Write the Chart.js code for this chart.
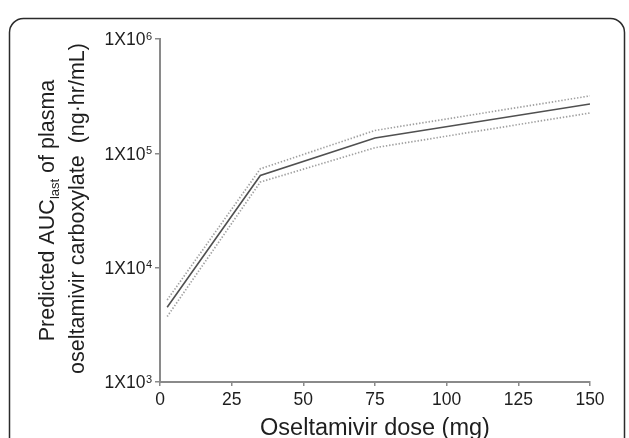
<!DOCTYPE html>
<html>
<head>
<meta charset="utf-8">
<script src="https://cdn.jsdelivr.net/npm/chart.js@4/dist/chart.umd.min.js"></script>
<style>
html,body{margin:0;padding:0;background:#fff;}
#c{display:block;}
</style>
</head>
<body>
<canvas id="c" width="629" height="438"></canvas>
<script>
// ---- data ----
const doses = [2.5, 35, 75, 150];
const predictedAUC = [4510, 64000, 136000, 270000];
const upperAUC = [5220, 73200, 158500, 318000];
const lowerAUC = [3735, 56100, 112000, 225500];
const xTickValues = [0, 25, 50, 75, 100, 125, 150];
const yTickValues = [1000, 10000, 100000, 1000000];
const yTickBase = ['1X10', '1X10', '1X10', '1X10'];
const yTickExp = ['3', '4', '5', '6'];
const xTitle = 'Oseltamivir dose (mg)';
const yTitleLine1 = ['Predicted AUC', 'last', ' of plasma'];
const yTitleLine2 = 'oseltamivir carboxylate  (ng\u00B7hr/mL)';

const FONT = '"Liberation Sans", Arial, sans-serif';
const TEXT = '#1e1e1e';

function pts(xs, ys) { return xs.map((x, i) => ({x: x, y: ys[i]})); }

const framePlugin = {
  id: 'frame',
  beforeDraw(chart) {
    const ctx = chart.ctx;
    ctx.save();
    ctx.fillStyle = '#fff';
    ctx.fillRect(0, 0, chart.width, chart.height);
    ctx.strokeStyle = '#2b2b2b';
    ctx.lineWidth = 1.5;
    ctx.beginPath();
    ctx.roundRect(9.5, 18.5, 615, 440, 14);
    ctx.stroke();
    ctx.restore();
  }
};

// y tick labels with real superscripts, placed with the library's y scale
const yTickPlugin = {
  id: 'yTickLabels',
  afterDraw(chart) {
    const ctx = chart.ctx;
    const ys = chart.scales.y;
    const right = ys.right - 5 - 3;
    const big = '17.5px ' + FONT;
    const small = '11px ' + FONT;
    ctx.save();
    ctx.fillStyle = TEXT;
    ctx.textBaseline = 'alphabetic';
    ctx.textAlign = 'left';
    yTickValues.forEach((v, i) => {
      const py = ys.getPixelForValue(v);
      ctx.font = small; const we = ctx.measureText(yTickExp[i]).width;
      ctx.font = big; const wb = ctx.measureText(yTickBase[i]).width;
      const x0 = right - we - wb - 0.5;
      const base = py + 6.2;
      ctx.fillText(yTickBase[i], x0, base);
      ctx.font = small;
      ctx.fillText(yTickExp[i], x0 + wb + 0.5, base - 5.5);
    });
    ctx.restore();
  }
};

const yTitlePlugin = {
  id: 'yTitle',
  afterDraw(chart) {
    const ctx = chart.ctx;
    const a = chart.chartArea;
    const cy = (a.top + a.bottom) / 2;
    const big = '21.5px ' + FONT;
    const small = '13px ' + FONT;
    ctx.save();
    ctx.fillStyle = TEXT;
    ctx.textBaseline = 'alphabetic';
    ctx.textAlign = 'left';
    ctx.font = big; const w0 = ctx.measureText(yTitleLine1[0]).width;
    const w2 = ctx.measureText(yTitleLine1[2]).width;
    ctx.font = small; const w1 = ctx.measureText(yTitleLine1[1]).width;
    const tot = w0 + w1 + w2;
    ctx.translate(54, cy);
    ctx.rotate(-Math.PI / 2);
    let x = -tot / 2;
    ctx.font = big; ctx.fillText(yTitleLine1[0], x, 0); x += w0;
    ctx.font = small; ctx.fillText(yTitleLine1[1], x, 5); x += w1;
    ctx.font = big; ctx.fillText(yTitleLine1[2], x, 0);
    ctx.restore();
    ctx.save();
    ctx.fillStyle = TEXT;
    ctx.font = big;
    ctx.textBaseline = 'alphabetic';
    ctx.textAlign = 'center';
    ctx.translate(84, cy - 2);
    ctx.rotate(-Math.PI / 2);
    ctx.fillText(yTitleLine2, 0, 0);
    ctx.restore();
  }
};

new Chart(document.getElementById('c'), {
  type: 'line',
  data: {
    datasets: [
      { label: 'Upper', data: pts(doses, upperAUC), borderColor: '#a0a0a0', borderWidth: 1.7, borderDash: [1.4, 1.8], pointRadius: 0, fill: false, tension: 0 },
      { label: 'Lower', data: pts(doses, lowerAUC), borderColor: '#a0a0a0', borderWidth: 1.7, borderDash: [1.4, 1.8], pointRadius: 0, fill: false, tension: 0 },
      { label: 'Predicted', data: pts(doses, predictedAUC), borderColor: '#505050', borderWidth: 1.6, pointRadius: 0, fill: false, tension: 0 }
    ]
  },
  options: {
    responsive: false,
    animation: false,
    devicePixelRatio: 1,
    layout: { padding: { left: 0, top: 39, right: 39, bottom: 0 } },
    plugins: { legend: { display: false }, tooltip: { enabled: false } },
    scales: {
      x: {
        type: 'linear',
        min: 0, max: 150,
        afterFit(scale) { scale.height = 56; },
        afterBuildTicks(scale) { scale.ticks = xTickValues.map(v => ({value: v})); },
        border: { display: true, color: '#8a8a8a', width: 2 },
        grid: { display: true, drawOnChartArea: false, drawTicks: true, tickLength: 4, color: '#8a8a8a', lineWidth: 1.5 },
        ticks: { padding: 4, color: TEXT, font: { family: FONT, size: 17.5 }, maxRotation: 0, autoSkip: false,
                 callback: (v) => String(v) },
        title: { display: true, text: xTitle, color: TEXT, font: { family: FONT, size: 23.5, lineHeight: 1 }, padding: { top: 0, bottom: -2 } }
      },
      y: {
        type: 'logarithmic',
        min: 1000, max: 1000000,
        afterFit(scale) { scale.width = 160; },
        afterBuildTicks(scale) { scale.ticks = yTickValues.map(v => ({value: v, major: true})); },
        border: { display: true, color: '#8a8a8a', width: 2 },
        grid: { display: true, drawOnChartArea: false, drawTicks: true, tickLength: 5, color: '#8a8a8a', lineWidth: 1.5 },
        ticks: { display: false, autoSkip: false }
      }
    }
  },
  plugins: [framePlugin, yTickPlugin, yTitlePlugin]
});
</script>
</body>
</html>
